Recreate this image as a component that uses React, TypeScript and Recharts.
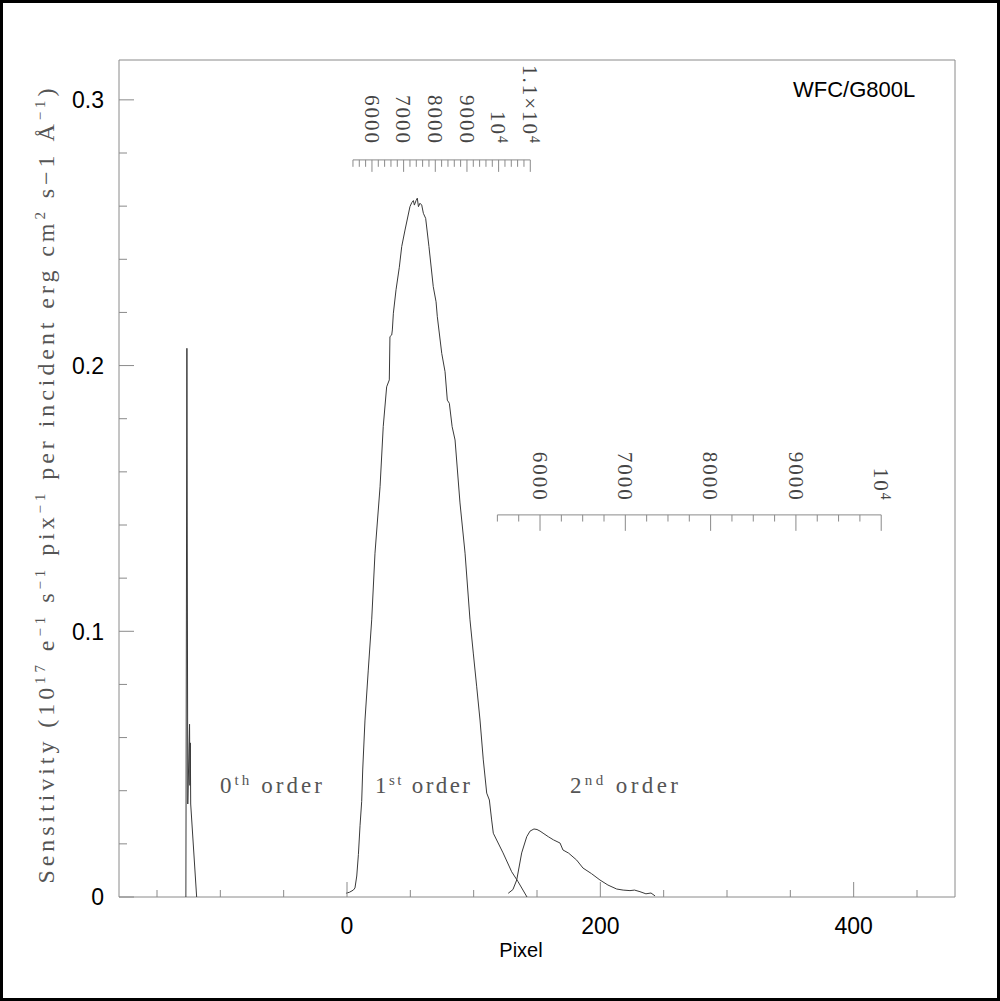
import React from "react";
import {
  ComposedChart,
  Line,
  XAxis,
  YAxis,
  ReferenceArea,
  ReferenceLine,
  ReferenceDot,
} from "recharts";

// zeroth order spike (pixel, sensitivity)
const order0X = [-127.2, -126.4, -125.7, -124.3, -124.0, -123.7, -123.4, -118.7];
const order0Y = [0, 0.2065, 0.035, 0.065, 0.042, 0.058, 0.035, 0];

// first order
const order1X = [
  -0.8, 2, 5, 6.3, 7.7, 9, 10.3, 11.6, 12.4, 14.2, 16.8, 19.5, 22.1, 26.1, 28.6,
  31.3, 33.4, 33.9, 35.3, 35.8, 36.6, 38.7, 41.3, 43.2, 45.8, 49.7, 51.1, 52.4,
  53.2, 54.5, 55.5, 56.4, 57.6, 59, 60.3, 62.1, 64.7, 68.1, 70.3, 71.3, 74.8,
  77.4, 79.2, 80.8, 83, 85.3, 89.2, 93.2, 97.1, 99.7, 102.4, 105, 107.6, 110.3,
  112.4, 114.2, 115.5, 123.2, 130, 135, 142.1,
];
const order1Y = [
  0.0014, 0.0018, 0.0026, 0.0034, 0.0079, 0.016, 0.027, 0.036, 0.0478, 0.0666,
  0.0854, 0.1043, 0.1294, 0.1544, 0.177, 0.192, 0.1946, 0.2109, 0.2115, 0.2134,
  0.2197, 0.2285, 0.237, 0.2448, 0.251, 0.2598, 0.2613, 0.2621, 0.2604, 0.2621,
  0.263, 0.2598, 0.2611, 0.2604, 0.2573, 0.2554, 0.2448, 0.2297, 0.224, 0.2184,
  0.2046, 0.1977, 0.187, 0.1858, 0.177, 0.172, 0.1483, 0.1294, 0.1043, 0.0918,
  0.0791, 0.0666, 0.0516, 0.0391, 0.0365, 0.029, 0.024, 0.0166, 0.0095, 0.0058, 0,
];

// second order
const order2X = [
  127.3, 131, 134, 137.9, 141.9, 144.5, 147.6, 150, 152.4, 155.5, 158.9, 163,
  168.2, 170.5, 175, 181.3, 186.3, 193, 199.7, 206, 212.9, 218, 223.4, 227,
  231.3, 236, 240, 243.2,
];
const order2Y = [
  0.0014, 0.0028, 0.0064, 0.0166, 0.0227, 0.0248, 0.0256, 0.0254, 0.0248,
  0.0238, 0.0227, 0.0215, 0.0203, 0.0177, 0.0165, 0.0139, 0.0109, 0.0088,
  0.0064, 0.0045, 0.003, 0.0026, 0.0024, 0.0026, 0.002, 0.0012, 0.0015, 0.0004,
];

const xTicks = [-150, -100, -50, 0, 50, 100, 150, 200, 250, 300, 350, 400, 450];
const xLabelled = [0, 200, 400];
const yTicks = [0, 0.02, 0.04, 0.06, 0.08, 0.1, 0.12, 0.14, 0.16, 0.18, 0.2, 0.22, 0.24, 0.26, 0.28, 0.3];
const yLabelled = [0, 0.1, 0.2, 0.3];

// wavelength scales (Angstrom) drawn above each order
const wave1Major = [6000, 7000, 8000, 9000, 10000, 11000];
const wave1Labels = ["6000", "7000", "8000", "9000", "10^4", "1.1×10^4"];
const wave1Range = [5400, 11000];
const wave1Step = 200;
const wave2Major = [6000, 7000, 8000, 9000, 10000];
const wave2Labels = ["6000", "7000", "8000", "9000", "10^4"];
const wave2Range = [5500, 10000];
const wave2Step = 250;

// dispersion: pixel = (lambda - zero) / disp
const disp1 = { zero: 5212, disp: 40 };
const disp2 = { zero: 3737, disp: 14.85 };
const toPix = (w: number, d: { zero: number; disp: number }) => (w - d.zero) / d.disp;

const zip = (xs: number[], ys: number[]) => xs.map((x, i) => ({ x, y: ys[i] }));

const AXIS = "#8a8a8a";
const CURVE = "#3a3a3a";

const XTick = (props: any) => {
  const { x, y, payload } = props;
  const major = xLabelled.includes(payload.value);
  return (
    <g>
      <line x1={x} x2={x} y1={y} y2={y - (major ? 15 : 7)} stroke={AXIS} />
      {major && (
        <text x={x} y={y + 37} textAnchor="middle" fontFamily="Liberation Sans" fontSize={23} fill="#000">
          {payload.value}
        </text>
      )}
    </g>
  );
};

const YTick = (props: any) => {
  const { x, y, payload } = props;
  const major = yLabelled.some((v) => Math.abs(v - payload.value) < 1e-9);
  return (
    <g>
      <line x1={x} x2={x + (major ? 15 : 8)} y1={y} y2={y} stroke={AXIS} />
      {major && (
        <text x={x - 15} y={y} dy="0.36em" textAnchor="end" fontFamily="Liberation Sans" fontSize={23} fill="#000">
          {payload.value}
        </text>
      )}
    </g>
  );
};

const WaveLabel = ({ cx, cy, text }: { cx: number; cy: number; text: string }) => {
  const [base, sup] = text.split("^");
  return (
    <text
      x={cx}
      y={cy}
      transform={`rotate(90 ${cx} ${cy})`}
      textAnchor="end"
      dy="0.35em"
      fontFamily="Liberation Serif"
      fontSize={21}
      letterSpacing={2}
      fill="#444"
    >
      {base}
      {sup && (
        <tspan dy={-7} fontSize={14}>
          {sup}
        </tspan>
      )}
    </text>
  );
};

const OrderLabel = ({ cx, cy, n, sup, len }: any) => (
  <text x={cx} y={cy} fontFamily="Liberation Serif" fontSize={23} fill="#555" textLength={len} lengthAdjust="spacing">
    {n}
    <tspan dy={-8} fontSize={15}>
      {sup}
    </tspan>
    <tspan dy={8}> order</tspan>
  </text>
);

const orderLabels = [
  { x: -100.3, n: "0", sup: "th", len: 102 },
  { x: 22.1, n: "1", sup: "st", len: 95 },
  { x: 176, n: "2", sup: "nd", len: 108 },
];
const orderLabelY = 0.039;

function waveScale(
  key: string,
  major: number[],
  labels: string[],
  range: number[],
  step: number,
  d: { zero: number; disp: number },
  level: number,
  minorLen: number,
  majorLen: number,
  labelLevel: number
) {
  const out: React.ReactNode[] = [];
  out.push(
    <ReferenceLine
      key={key + "line"}
      segment={[
        { x: toPix(range[0], d), y: level },
        { x: toPix(range[1], d), y: level },
      ]}
      stroke={AXIS}
      ifOverflow="visible"
    />
  );
  for (let w = range[0]; w <= range[1]; w += step) {
    const isMajor = major.includes(w);
    out.push(
      <ReferenceLine
        key={key + "t" + w}
        segment={[
          { x: toPix(w, d), y: level },
          { x: toPix(w, d), y: level - (isMajor ? majorLen : minorLen) },
        ]}
        stroke={AXIS}
        ifOverflow="visible"
      />
    );
  }
  major.forEach((w, i) => {
    out.push(
      <ReferenceDot
        key={key + "l" + w}
        x={toPix(w, d)}
        y={labelLevel}
        r={1}
        ifOverflow="visible"
        shape={(p: any) => <WaveLabel cx={p.cx} cy={p.cy} text={labels[i]} />}
      />
    );
  });
  return out;
}

export default function App() {
  return (
    <div style={{ position: "absolute", left: 0, top: 0, width: 1000, height: 1001, background: "#fff" }}>
      <ComposedChart width={1000} height={1001} margin={{ top: 60, right: 45, bottom: 44, left: 59 }}>
        <XAxis
          type="number"
          dataKey="x"
          domain={[-180, 480]}
          allowDataOverflow
          ticks={xTicks}
          interval={0}
          height={60}
          tickSize={0}
          tickMargin={0}
          axisLine={false}
          tickLine={false}
          tick={<XTick />}
        />
        <YAxis
          type="number"
          dataKey="y"
          domain={[0, 0.315]}
          allowDataOverflow
          ticks={yTicks}
          interval={0}
          width={60}
          tickSize={0}
          tickMargin={0}
          axisLine={false}
          tickLine={false}
          tick={<YTick />}
        />
        <ReferenceArea x1={-180} x2={480} y1={0} y2={0.315} fill="none" stroke={AXIS} ifOverflow="visible" />
        {waveScale("w1", wave1Major, wave1Labels, wave1Range, wave1Step, disp1, 0.2774, 0.0026, 0.0045, 0.283)}
        {waveScale("w2", wave2Major, wave2Labels, wave2Range, wave2Step, disp2, 0.1438, 0.0025, 0.006, 0.1487)}
        {orderLabels.map((o) => (
          <ReferenceDot
            key={o.n}
            x={o.x}
            y={orderLabelY}
            r={1}
            ifOverflow="visible"
            shape={(p: any) => <OrderLabel cx={p.cx} cy={p.cy} n={o.n} sup={o.sup} len={o.len} />}
          />
        ))}
        <Line data={zip(order0X, order0Y)} dataKey="y" dot={false} stroke={CURVE} strokeWidth={1} isAnimationActive={false} />
        <Line data={zip(order1X, order1Y)} dataKey="y" dot={false} stroke={CURVE} strokeWidth={1} isAnimationActive={false} />
        <Line data={zip(order2X, order2Y)} dataKey="y" dot={false} stroke={CURVE} strokeWidth={1} isAnimationActive={false} />
      </ComposedChart>
      <svg width={1000} height={1001} style={{ position: "absolute", left: 0, top: 0, pointerEvents: "none" }}>
        <rect x={1.5} y={1.5} width={997} height={998} fill="none" stroke="#000" strokeWidth={3} />
        <text x={793} y={97} fontFamily="Liberation Sans" fontSize={22} fill="#000">
          WFC/G800L
        </text>
        <text x={521} y={957} textAnchor="middle" fontFamily="Liberation Sans" fontSize={20} fill="#000">
          Pixel
        </text>
        <text
          x={54}
          y={486}
          transform="rotate(-90 54 486)"
          textAnchor="middle"
          fontFamily="Liberation Serif"
          fontSize={24}
          fill="#555"
          textLength={795}
          lengthAdjust="spacing"
        >
          Sensitivity (10<tspan dy={-9} fontSize={15}>17</tspan>
          <tspan dy={9}> e</tspan>
          <tspan dy={-9} fontSize={15}>−1</tspan>
          <tspan dy={9}> s</tspan>
          <tspan dy={-9} fontSize={15}>−1</tspan>
          <tspan dy={9}> pix</tspan>
          <tspan dy={-9} fontSize={15}>−1</tspan>
          <tspan dy={9}> per incident erg cm</tspan>
          <tspan dy={-9} fontSize={15}>2</tspan>
          <tspan dy={9}> s−1 Å</tspan>
          <tspan dy={-9} fontSize={15}>−1</tspan>
          <tspan dy={9}>)</tspan>
        </text>
      </svg>
    </div>
  );
}
